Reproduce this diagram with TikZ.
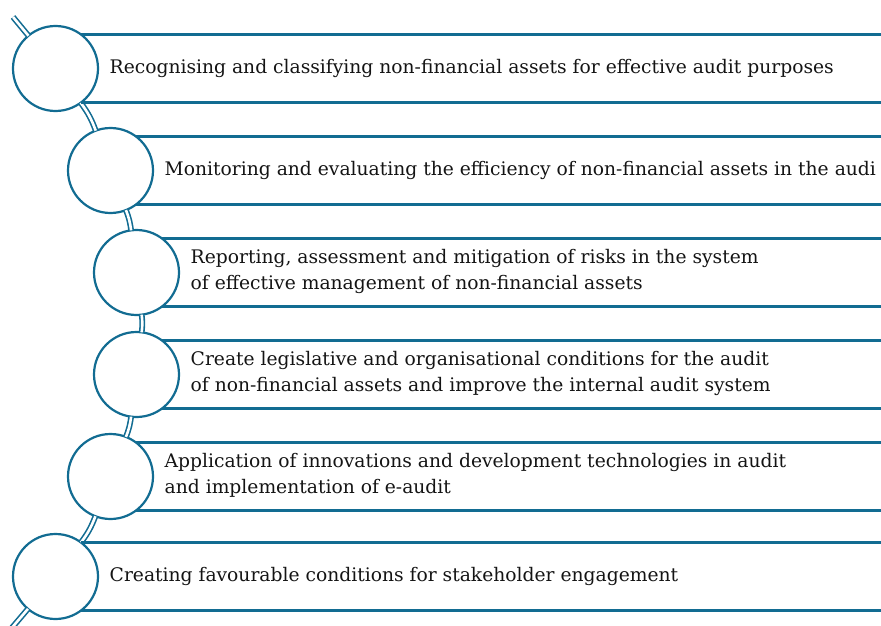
\documentclass[tikz,border=0pt]{standalone}
\usepackage{fontspec}
\setmainfont{DejaVu Serif}
\definecolor{teal}{RGB}{18,108,146}
\definecolor{txt}{RGB}{20,20,20}
\begin{document}
\begin{tikzpicture}[x=1pt,y=-1pt,
  bubble/.style={circle,draw=teal,line width=2.2pt,fill=white,minimum size=85pt,inner sep=0pt,outer sep=0pt},
  band/.style={draw=teal,line width=2.4pt},
  rail/.style={draw=teal,line width=1.6pt,double=white,double distance=2.6pt},
  label/.style={anchor=west,align=left,text=txt,font=\fontsize{18.7}{25.5}\selectfont,inner sep=0pt}]
\useasboundingbox (0,0) rectangle (881,626);
\clip (0,0) rectangle (881,626);
\coordinate (R) at (881,0);
\coordinate (S) at (13,17);
\coordinate (E) at (10,630);
% bubbles
\node[bubble] (c1) at (55.5,68.5) {};
\node[bubble] (c2) at (110.5,170.5) {};
\node[bubble] (c3) at (136.5,272.5) {};
\node[bubble] (c4) at (136.5,374.5) {};
\node[bubble] (c5) at (110.5,476.5) {};
\node[bubble] (c6) at (55.5,576.5) {};
% rails
\draw[rail] (S) -- (c1);
\draw[rail] (c1) to[bend left=8] (c2);
\draw[rail] (c2) to[bend left=7] (c3);
\draw[rail] (c3) to[bend left=7] (c4);
\draw[rail] (c4) to[bend left=7] (c5);
\draw[rail] (c5) to[bend left=8] (c6);
\draw[rail] (c6) -- (E);
% bands
\foreach \c in {c1,c2,c3,c4,c5,c6}{
  \draw[band] (\c.53.13) -- (\c.53.13 -| R);
  \draw[band] (\c.-53.13) -- (\c.-53.13 -| R);
}
% labels
\node[label] (t1) at ([xshift=54pt]c1.center) {Recognising and classifying non-financial assets for effective audit purposes};
\node[label] (t2) at ([xshift=54pt]c2.center) {Monitoring and evaluating the efficiency of non-financial assets in the audi};
\node[label] (t3) at ([xshift=54pt,yshift=1pt]c3.center) {Reporting, assessment and mitigation of risks in the system\\of effective management of non-financial assets};
\node[label] (t4) at ([xshift=54pt,yshift=1pt]c4.center) {Create legislative and organisational conditions for the audit\\of non-financial assets and improve the internal audit system};
\node[label] (t5) at ([xshift=54pt,yshift=1pt]c5.center) {Application of innovations and development technologies in audit\\and implementation of e-audit};
\node[label] (t6) at ([xshift=54pt]c6.center) {Creating favourable conditions for stakeholder engagement};
\end{tikzpicture}
\end{document}
